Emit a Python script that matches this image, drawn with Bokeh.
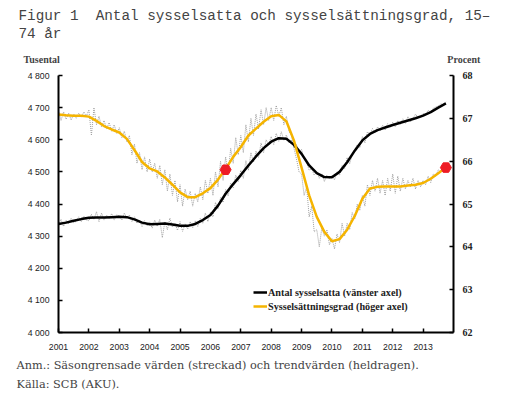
from bokeh.plotting import figure
from bokeh.models import Range1d, LinearAxis, FixedTicker, Legend, LegendItem, Title
from bokeh.embed import file_html
from bokeh.resources import INLINE

# ---------------- data ----------------
years = list(range(2001, 2014))
year_labels = [str(y) for y in years]

sa_emp = [
    4335, 4352, 4330, 4350, 4338, 4356, 4342, 4346, 4360, 4345, 4362, 4350,
    4348, 4368, 4352, 4376, 4345, 4372, 4350, 4365, 4355, 4370, 4350, 4366,
    4362, 4350, 4372, 4355, 4366, 4345, 4360, 4340, 4350, 4330, 4348, 4332,
    4345, 4325, 4350, 4330, 4352, 4295, 4345, 4320, 4356, 4328, 4340, 4318,
    4345, 4315, 4338, 4322, 4345, 4326, 4348, 4330, 4355, 4340, 4372, 4345,
    4375, 4360, 4405, 4385, 4420, 4405, 4445, 4425, 4465, 4450, 4490, 4470,
    4505, 4480, 4535, 4505, 4560, 4530, 4565, 4545, 4590, 4560, 4600, 4585,
    4610, 4585, 4620, 4595, 4625, 4598, 4615, 4590, 4600, 4575, 4585, 4560,
    4570, 4540, 4530, 4505, 4510, 4490, 4500, 4480, 4495, 4470, 4490, 4478,
    4490, 4475, 4500, 4490, 4520, 4510, 4545, 4525, 4555, 4570, 4585, 4575,
    4610, 4590, 4625, 4615, 4635, 4622, 4640, 4628, 4645, 4630, 4650, 4638,
    4655, 4640, 4660, 4648, 4665, 4650, 4672, 4655, 4665, 4680, 4668, 4672,
    4682, 4678, 4692, 4685, 4698, 4702, 4705, 4712, 4708, 4718,
]
sa_rate = [
    67.20, 66.95, 67.15, 66.98, 67.12, 66.96, 67.10, 67.00, 67.12, 67.02, 67.15, 67.05,
    67.20, 66.60, 67.25, 66.85, 67.05, 66.80, 66.95, 66.75, 66.90, 66.70, 66.85, 66.65,
    66.78, 66.55, 66.70, 66.45, 66.60, 66.15, 66.40, 65.95, 66.20, 65.80, 66.10, 65.75,
    66.05, 65.75, 65.95, 65.60, 65.90, 65.45, 65.80, 65.30, 65.70, 65.20, 65.55, 65.05,
    65.45, 64.95, 65.35, 65.10, 65.30, 64.95, 65.25, 65.05, 65.40, 65.10, 65.55, 65.25,
    65.60, 65.20, 65.75, 65.40, 66.00, 65.55, 66.10, 65.70, 66.30, 65.95, 66.55, 66.15,
    66.60, 66.20, 66.85, 66.45, 67.00, 66.60, 67.10, 66.75, 67.20, 66.85, 67.25, 66.95,
    67.25, 66.95, 67.30, 67.05, 67.25, 66.85, 67.05, 66.70, 66.60, 66.30, 66.05, 65.75,
    65.70, 65.20, 65.40, 64.70, 64.95, 64.35, 64.40, 64.00, 64.45, 64.25, 64.40, 64.05,
    64.20, 63.95, 64.30, 64.10, 64.55, 64.25, 64.55, 64.40, 64.80, 64.65, 65.00, 64.85,
    65.20, 64.95, 65.45, 65.20, 65.55, 65.30, 65.60, 65.25, 65.55, 65.20, 65.60, 65.30,
    65.70, 65.25, 65.65, 65.30, 65.60, 65.35, 65.55, 65.40, 65.60, 65.35, 65.55, 65.40,
    65.55, 65.45, 65.65, 65.50, 65.70, 65.65, 65.80, 65.75, 65.90, 65.85,
]
trend_emp = [
    4338, 4342, 4348, 4353, 4357, 4358, 4358, 4359, 4360, 4359, 4352, 4342,
    4337, 4338, 4339, 4336, 4332, 4332, 4338, 4350, 4366, 4395, 4432, 4462,
    4490, 4520, 4548, 4574, 4594, 4605, 4603, 4584, 4556, 4520, 4496, 4484,
    4483, 4500, 4530, 4566, 4598, 4618, 4630, 4638, 4646, 4653, 4660, 4667,
    4675, 4686, 4700, 4713,
]
trend_rate = [
    67.09, 67.07, 67.06, 67.06, 67.04, 66.94, 66.82, 66.74, 66.67, 66.52, 66.26, 65.98,
    65.83, 65.76, 65.62, 65.45, 65.27, 65.16, 65.16, 65.25, 65.37, 65.57, 65.82, 66.10,
    66.33, 66.60, 66.76, 66.92, 67.05, 67.08, 66.93, 66.48, 65.85, 65.20, 64.70, 64.35,
    64.13, 64.18, 64.40, 64.72, 65.12, 65.36, 65.40, 65.41, 65.41, 65.41, 65.43, 65.45,
    65.49, 65.59, 65.72, 65.85,
]
marker_t = [2006.5, 2013.75]
marker_rate = [65.80, 65.85]

emp_ticks = [4000, 4100, 4200, 4300, 4400, 4500, 4600, 4700, 4800]
emp_tick_labels = ["4 000", "4 100", "4 200", "4 300", "4 400", "4 500", "4 600", "4 700", "4 800"]
rate_ticks = [62, 63, 64, 65, 66, 67, 68]
rate_tick_labels = ["62", "63", "64", "65", "66", "67", "68"]
legend_labels = ["Antal sysselsatta (vänster axel)", "Sysselsättningsgrad (höger axel)"]
title_line1 = "Figur 1 \u00a0Antal sysselsatta och sysselsättningsgrad, 15–"
title_line2 = "74 år"
left_unit = "Tusental"
right_unit = "Procent"
note_line1 = "Anm.: Säsongrensade värden (streckad) och trendvärden (heldragen)."
note_line2 = "Källa: SCB (AKU)."

t_month = [2001 + i / 12 for i in range(len(sa_emp))]
t_quarter = [2001 + i / 4 for i in range(len(trend_emp))]

SERIF = "Liberation Serif"
SANS = "Liberation Sans"
p = figure(width=510, height=390, output_backend="svg", toolbar_location=None,
           x_range=Range1d(2001, 2014), y_range=Range1d(4000, 4800),
           min_border_left=58, min_border_right=57, min_border_top=75, min_border_bottom=57)
p.extra_y_ranges = {"pct": Range1d(62, 68)}
p.outline_line_color = None
p.xgrid.visible = False
p.ygrid.visible = False

right = LinearAxis(y_range_name="pct")
p.add_layout(right, "right")

def style_axis(ax):
    ax.axis_line_width = 2
    ax.axis_line_color = "black"
    ax.major_tick_in = 4
    ax.major_tick_out = 0
    ax.major_tick_line_width = 1.5
    ax.minor_tick_line_color = None
    ax.major_label_text_font = SANS
    ax.major_label_text_font_size = "8.7px"
    ax.major_label_text_color = "#222222"
    ax.major_label_standoff = 9

for ax in [p.xaxis[0], p.yaxis[0], right]:
    style_axis(ax)
p.xaxis[0].major_label_standoff = 11
right.major_label_text_font = SERIF
right.major_label_text_font_style = "bold"
right.major_label_text_font_size = "10px"

p.xaxis[0].ticker = FixedTicker(ticks=years)
p.xaxis[0].major_label_overrides = dict(zip(years, year_labels))
p.yaxis[0].ticker = FixedTicker(ticks=emp_ticks)
p.yaxis[0].major_label_overrides = dict(zip(emp_ticks, emp_tick_labels))
right.ticker = FixedTicker(ticks=rate_ticks)
right.major_label_overrides = dict(zip(rate_ticks, rate_tick_labels))

GREY = "#a0a0a0"
YEL = "#f5b400"
p.line(t_month, sa_emp, line_color=GREY, line_width=1, line_dash="1 1")
p.line(t_month, sa_rate, line_color=GREY, line_width=1, line_dash="1 1", y_range_name="pct")
r_emp = p.line(t_quarter, trend_emp, line_color="black", line_width=2.5)
r_rate = p.line(t_quarter, trend_rate, line_color=YEL, line_width=2.5, y_range_name="pct")
p.scatter(marker_t, marker_rate, marker="hex", size=11, color="#ee1c25", y_range_name="pct")

legend = Legend(items=[LegendItem(label=legend_labels[0], renderers=[r_emp]),
                       LegendItem(label=legend_labels[1], renderers=[r_rate])],
                location=(195, 19), padding=0, margin=0, spacing=0,
                glyph_width=14, glyph_height=14, label_height=14, label_standoff=1,
                border_line_color=None, background_fill_alpha=0,
                label_text_font=SERIF, label_text_font_size="10.2px",
                label_text_font_style="bold", label_text_color="#222222")
p.add_layout(legend)

# header rows (closest to the plot first)
units = Title(text=left_unit + "\u00a0" * 155 + right_unit, align="left", offset=-35,
              text_font=SERIF, text_font_size="10px", text_font_style="bold", standoff=21)
t1 = Title(text=title_line1, align="left", offset=-40,
           text_font="Liberation Mono", text_font_size="14.3px", text_font_style="normal", standoff=0)
t2 = Title(text=title_line2, align="left", offset=-40,
           text_font="Liberation Mono", text_font_size="14.3px", text_font_style="normal", standoff=0)
p.add_layout(units, "above")
p.add_layout(t2, "above")
p.add_layout(t1, "above")

f1 = Title(text=note_line1, align="left", offset=-42,
           text_font="DejaVu Serif", text_font_size="11.3px", text_font_style="normal", standoff=8)
f2 = Title(text=note_line2, align="left", offset=-42,
           text_font="DejaVu Serif", text_font_size="11.3px", text_font_style="normal", standoff=0)
p.add_layout(f1, "below")
p.add_layout(f2, "below")

open("out.html", "w").write(file_html(p, INLINE))
